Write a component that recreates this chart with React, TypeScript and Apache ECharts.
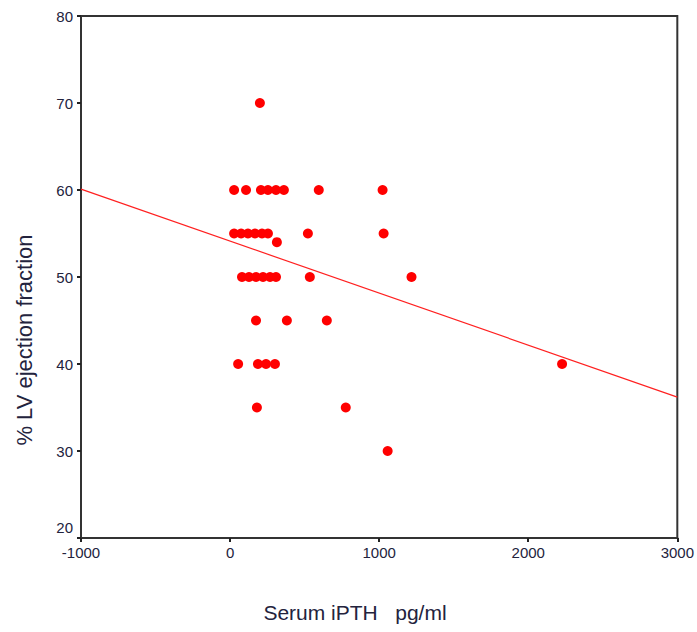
import React, { useEffect, useRef } from "react";
import * as echarts from "echarts";

const pthValues: number[] = [
  200,
  27, 107, 207, 254, 308, 361, 595, 1023,
  27, 74, 120, 167, 214, 254, 522, 1030,
  314,
  80, 127, 174, 221, 268, 308, 535, 1217,
  174, 381, 649,
  54, 187, 241, 301, 2227,
  180, 776,
  1057,
];
const efValues: number[] = [
  70,
  60, 60, 60, 60, 60, 60, 60, 60,
  55, 55, 55, 55, 55, 55, 55, 55,
  54,
  50, 50, 50, 50, 50, 50, 50, 50,
  45, 45, 45,
  40, 40, 40, 40, 40,
  35, 35,
  30,
];
const fitX: number[] = [-1000, 3000];
const fitY: number[] = [60.1, 36.2];
const xTicks: number[] = [-1000, 0, 1000, 2000, 3000];
const yTicks: number[] = [20, 30, 40, 50, 60, 70, 80];
const xTitle = "Serum iPTH   pg/ml";
const yTitle = "% LV ejection fraction";

export default function App() {
  const ref = useRef<HTMLDivElement>(null);
  useEffect(() => {
    if (!ref.current) return;
    const chart = echarts.init(ref.current, undefined, { renderer: "svg" });
    const labelColor = "#23233d";
    const font = "'Liberation Sans', Arial, sans-serif";
    chart.setOption({
      animation: false,
      backgroundColor: "#ffffff",
      grid: {
        left: 81,
        right: 18,
        top: 16,
        bottom: 94,
        show: true,
        borderColor: "#333333",
        borderWidth: 2,
      },
      xAxis: {
        type: "value",
        min: xTicks[0],
        max: xTicks[xTicks.length - 1],
        interval: 1000,
        axisLine: { show: true, onZero: false, lineStyle: { color: "#333333", width: 2 } },
        axisTick: { show: true, length: 4, lineStyle: { color: "#222222", width: 2 } },
        axisLabel: {
          color: labelColor,
          fontSize: 15,
          fontFamily: font,
          margin: 7,
          formatter: (v: number) => String(v),
        },
        splitLine: { show: false },
      },
      yAxis: {
        type: "value",
        min: yTicks[0],
        max: yTicks[yTicks.length - 1],
        interval: 10,
        axisLine: { show: true, onZero: false, lineStyle: { color: "#333333", width: 2 } },
        axisTick: { show: true, length: 4, lineStyle: { color: "#222222", width: 2 } },
        axisLabel: {
          color: labelColor,
          fontSize: 15,
          fontFamily: font,
          margin: 8,
          formatter: (v: number) => (v === yTicks[0] ? "{low|" + v + "}" : String(v)),
          rich: {
            low: {
              color: labelColor,
              fontSize: 15,
              fontFamily: font,
              padding: [0, 0, 22, 0],
            },
          },
        },
        splitLine: { show: false },
      },
      graphic: [
        {
          type: "text",
          x: 355,
          y: 612,
          style: {
            text: xTitle,
            fill: labelColor,
            fontSize: 21,
            fontFamily: font,
            textAlign: "center",
            textVerticalAlign: "middle",
          },
        },
        {
          type: "text",
          x: 24,
          y: 340,
          rotation: Math.PI / 2,
          style: {
            text: yTitle,
            fill: labelColor,
            fontSize: 22,
            fontFamily: font,
            textAlign: "center",
            textVerticalAlign: "middle",
          },
        },
      ],
      series: [
        {
          type: "line",
          data: fitX.map((x, i) => [x, fitY[i]]),
          showSymbol: false,
          symbol: "none",
          lineStyle: { color: "#ff2020", width: 1.2 },
          z: 2,
        },
        {
          type: "scatter",
          data: pthValues.map((x, i) => [x, efValues[i]]),
          symbol: "circle",
          symbolSize: 10,
          itemStyle: { color: "#ff0000", opacity: 1 },
          z: 3,
        },
      ],
    });
    return () => chart.dispose();
  }, []);
  return <div ref={ref} style={{ width: 697, height: 632, position: "absolute", left: 0, top: 0 }} />;
}
